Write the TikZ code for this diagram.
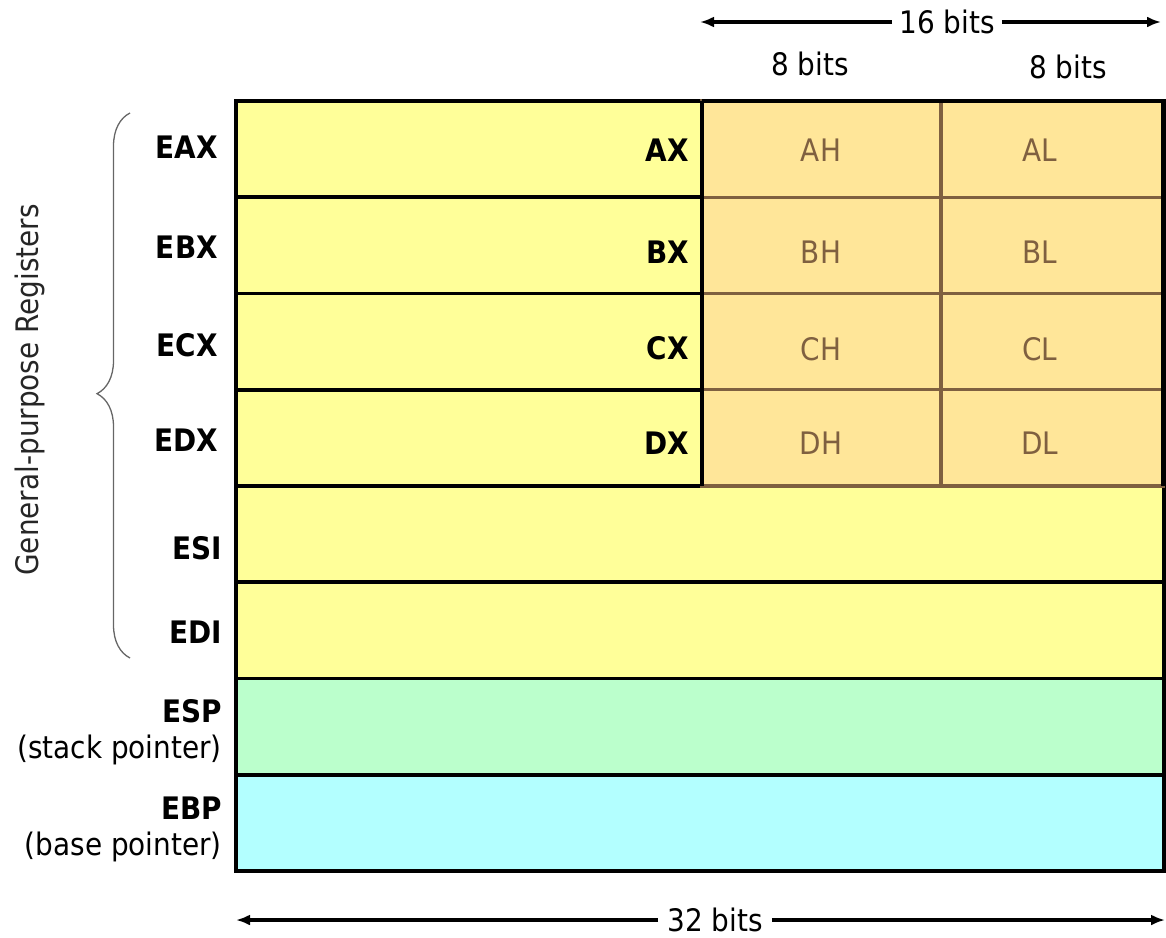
\documentclass[tikz,border=0pt]{standalone}
\usepackage{fontspec}
\setmainfont{DejaVu Sans Condensed}
\usepackage{xcolor}
\usepackage{tikz}
\usetikzlibrary{arrows,arrows.meta,positioning,shapes}
\usetikzlibrary{decorations.pathreplacing}

\definecolor{regyellow}{HTML}{FFFF99}
\definecolor{regorange}{HTML}{FFE699}
\definecolor{reggreen}{HTML}{BBFFCC}
\definecolor{regcyan}{HTML}{B3FFFF}
\definecolor{cellbrown}{HTML}{7F6040}

\begin{document}
\begin{tikzpicture}[x=1pt,y=-1pt,
  every node/.style={font=\fontsize{31}{36}\selectfont}
]

\tikzstyle{reg}=[draw,rectangle,line width=3.6pt,minimum width=928pt,minimum height=96.25pt,inner sep=0pt,outer sep=0pt]
\tikzstyle{half}=[draw=cellbrown,rectangle,line width=3.2pt,fill=regorange,minimum height=96.25pt,inner sep=0pt,outer sep=0pt]
\tikzstyle{regname}=[anchor=east,inner sep=0pt,font=\fontsize{31}{36}\selectfont\bfseries]
\tikzstyle{byte}=[text=cellbrown,inner sep=0pt]
\tikzset{widthline/.style={line width=3.4pt,>={Latex[length=14pt,width=11pt]}}}

\useasboundingbox (0,0) rectangle (1166,937);

% the 32 bit registers
\node[reg,fill=regyellow,anchor=north west] (eax) at (236,101) {};
\node[reg,fill=regyellow,below=0pt of eax] (ebx) {};
\node[reg,fill=regyellow,below=0pt of ebx] (ecx) {};
\node[reg,fill=regyellow,below=0pt of ecx] (edx) {};
\node[reg,fill=regyellow,below=0pt of edx] (esi) {};
\node[reg,fill=regyellow,below=0pt of esi] (edi) {};
\node[reg,fill=reggreen,below=0pt of edi] (esp) {};
\node[reg,fill=regcyan,below=0pt of esp] (ebp) {};

% high and low bytes
\node[half,minimum width=239pt,anchor=north west] (ah) at (702,101) {};
\node[half,minimum width=222pt,right=0pt of ah] (al) {};
\node[half,minimum width=239pt,below=0pt of ah] (bh) {};
\node[half,minimum width=222pt,right=0pt of bh] (bl) {};
\node[half,minimum width=239pt,below=0pt of bh] (ch) {};
\node[half,minimum width=222pt,right=0pt of ch] (cl) {};
\node[half,minimum width=239pt,below=0pt of ch] (dh) {};
\node[half,minimum width=222pt,right=0pt of dh] (dl) {};
\draw[line width=3.6pt] (ah.north west) -- (dh.south west);
\draw[line width=3.6pt] (ah.north west) -- (al.north east) -- (dl.south east);

\node[byte] at (821,150) {AH};
\node[byte] at (1040,150) {AL};
\node[byte] at (821,252) {BH};
\node[byte] at (1040,252) {BL};
\node[byte] at (821,349) {CH};
\node[byte] at (1040,349) {CL};
\node[byte] at (821,443) {DH};
\node[byte] at (1040,443) {DL};

\node[regname] (ax) at (689,150) {AX};
\node[regname] (bx) at (689,252) {BX};
\node[regname] (cx) at (689,348) {CX};
\node[regname] (dx) at (689,443) {DX};

% register names
\node[regname] (leax) at (218,147) {EAX};
\node[regname] (lebx) at (218,247) {EBX};
\node[regname] (lecx) at (218,345) {ECX};
\node[regname] (ledx) at (218,440) {EDX};
\node[regname] (lesi) at (222,548) {ESI};
\node[regname] (ledi) at (222,632) {EDI};
\node[anchor=east,inner sep=0pt,align=right] (lesp) at (222,732) {\textbf{ESP}\\(stack pointer)};
\node[anchor=east,inner sep=0pt,align=right] (lebp) at (222,829) {\textbf{EBP}\\(base pointer)};

% brace
\coordinate (btop) at (130,113);
\coordinate (bbot) at (130,658);
\draw[draw=black!60,line width=1.3pt,decorate,decoration={brace,amplitude=33pt,aspect=0.485}]
  (bbot) -- (btop);
\node[rotate=90,text=black!85] (gpr) at (30,390) {General-purpose Registers};

% widths
\node[fill=white,inner sep=7pt] (b16) at (947,22) {16 bits};
\coordinate (t16l) at (700,22);
\coordinate (t16r) at (1161,22);
\node (b8h) at (810,64) {8 bits};
\node (b8l) at (1068,67) {8 bits};
\draw[widthline,->] (b16) -- (t16l);
\draw[widthline,->] (b16) -- (t16r);

\node[inner sep=9pt] (b32) at (715,920) {32 bits};
\coordinate (t32l) at (236,920);
\coordinate (t32r) at (1165,920);
\draw[widthline,->] (b32) -- (t32l);
\draw[widthline,->] (b32) -- (t32r);

\end{tikzpicture}
\end{document}
